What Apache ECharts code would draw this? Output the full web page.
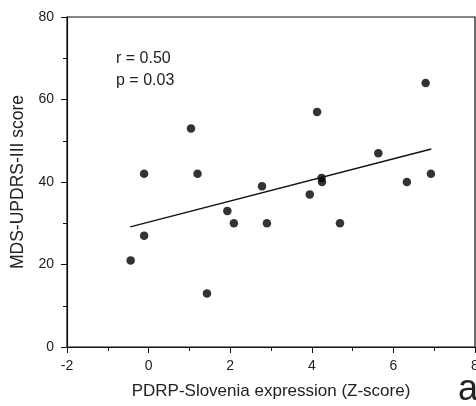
<!DOCTYPE html>
<html>
<head>
<meta charset="utf-8">
<script src="https://cdn.jsdelivr.net/npm/echarts@6/dist/echarts.min.js"></script>
<style>
html, body { margin: 0; padding: 0; background: #fff; }
#chart { width: 476px; height: 406px; }
</style>
</head>
<body>
<div id="chart"></div>
<script>
// PDRP-Slovenia expression (Z-score) vs MDS-UPDRS-III score
var zScore = [-0.44, -0.11, -0.11, 1.04, 1.20, 1.43, 1.93, 2.09, 2.78, 2.90, 3.95, 4.13, 4.24, 4.25, 4.69, 5.63, 6.33, 6.79, 6.92];
var updrs  = [21, 42, 27, 53, 42, 13, 33, 30, 39, 30, 37, 57, 41, 40, 30, 47, 40, 64, 42];
// regression line end points
var fitX = [-0.45, 6.93];
var fitY = [29.1, 48.0];
var statsText = ['r = 0.50', 'p = 0.03'];

var pts = zScore.map(function (x, i) { return [x, updrs[i]]; });
var fit = fitX.map(function (x, i) { return [x, fitY[i]]; });

var font = 'Liberation Sans, Arial, sans-serif';
var chart = echarts.init(document.getElementById('chart'));

var option = {
    animation: false,
    grid: {
        left: 67, top: 17, right: 1, bottom: 59,
        outerBoundsMode: 'none',
        containLabel: false,
        show: true, borderColor: '#111', borderWidth: 1.2
    },
    xAxis: {
        type: 'value',
        min: -2, max: 8, interval: 2,
        name: 'PDRP-Slovenia expression (Z-score)',
        nameLocation: 'middle', nameGap: 36,
        nameTextStyle: { fontFamily: font, fontSize: 17, color: '#222' },
        axisLine: { show: true, onZero: false, lineStyle: { color: '#111', width: 1.2 } },
        axisTick: { show: true, length: 6, lineStyle: { color: '#111' } },
        minorTick: { show: true, splitNumber: 2, length: 4, lineStyle: { color: '#111' } },
        axisLabel: { fontFamily: font, fontSize: 14, color: '#222', margin: 12 },
        splitLine: { show: false }
    },
    yAxis: {
        type: 'value',
        min: 0, max: 80, interval: 20,
        name: 'MDS-UPDRS-III score',
        nameLocation: 'middle', nameGap: 40,
        nameTextStyle: { fontFamily: font, fontSize: 17.5, color: '#222' },
        axisLine: { show: true, onZero: false, lineStyle: { color: '#111', width: 1.2 } },
        axisTick: { show: true, length: 6, lineStyle: { color: '#111' } },
        minorTick: { show: true, splitNumber: 2, length: 4, lineStyle: { color: '#111' } },
        axisLabel: { fontFamily: font, fontSize: 14, color: '#222', margin: 13 },
        splitLine: { show: false }
    },
    graphic: [
        {
            type: 'text', left: 116, top: 48,
            style: { text: statsText.join('\n'), font: '16px ' + font, fill: '#222', lineHeight: 22 }
        },
        {
            type: 'text', left: 458, top: 372,
            style: { text: 'a', font: '36px ' + font, fill: '#222' }
        }
    ],
    series: [
        {
            type: 'scatter',
            data: pts,
            symbol: 'circle',
            symbolSize: 8.5,
            itemStyle: { color: '#000' }
        },
        {
            type: 'line',
            data: fit,
            symbol: 'none',
            lineStyle: { color: '#111', width: 1.3 }
        }
    ]
};

chart.setOption(option);
</script>
</body>
</html>
